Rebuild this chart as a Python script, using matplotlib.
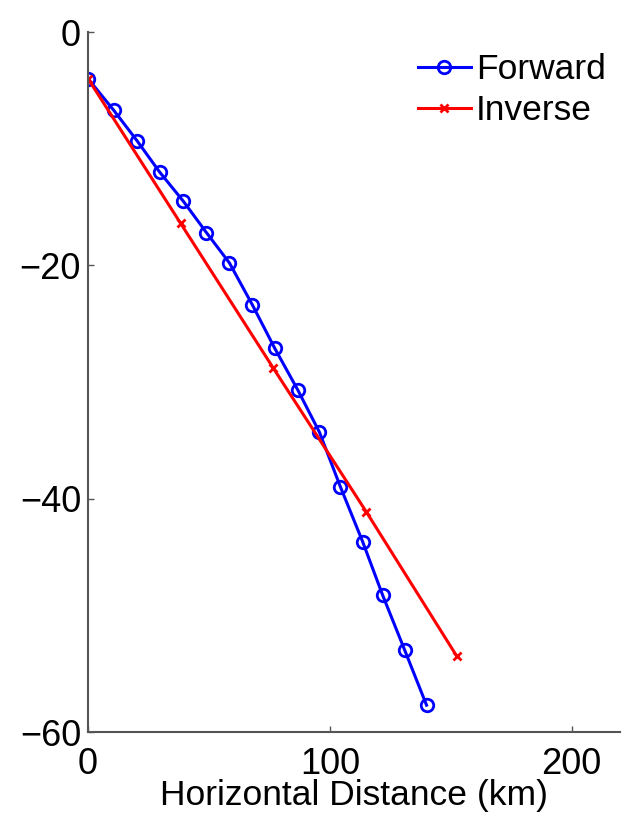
import matplotlib
matplotlib.use("Agg")
import matplotlib.pyplot as plt

plt.rcParams['font.family'] = ['Liberation Sans', 'DejaVu Sans']

# forward model trace
fwd_x = [0, 10.6, 20.2, 29.6, 39.4, 49.0, 58.5, 68.0, 77.2, 86.8, 95.7, 104.4, 113.6, 121.9, 131.0, 140.0]
fwd_y = [-4.0, -6.7, -9.3, -12.0, -14.5, -17.2, -19.8, -23.4, -27.1, -30.7, -34.3, -39.0, -43.7, -48.3, -53.0, -57.7]

# inverse solution
inv_x = [0, 38.3, 76.6, 115.0, 152.5]
inv_y = [-4.0, -16.4, -28.8, -41.1, -53.5]

fig = plt.figure(figsize=(6.3, 8.15), dpi=100)
ax = fig.add_axes([88/630, 1 - 732/815, (620-88)/630, (732-32)/815])

ax.plot(fwd_x, fwd_y, '-o', color='#0000ff', lw=2.2, ms=9, mew=2, mfc='none', label='Forward')
ax.plot(inv_x, inv_y, '-x', color='#ff0000', lw=2.2, ms=6, mew=2, label='Inverse')

ax.set_xlim(0, 220)
ax.set_ylim(-60, 0)
ax.set_xticks([0, 100, 200])
ax.set_yticks([-60, -40, -20, 0])
ax.set_yticklabels(['\u221260', '\u221240', '\u221220', '0'])
ax.set_xlabel('Horizontal Distance (km)', fontsize=25.5, labelpad=-2)
ax.tick_params(direction='in', labelsize=26, length=4, width=1, color='#555555', pad=5)
ax.tick_params(axis='x', pad=11)
for s in ['top', 'right']:
    ax.spines[s].set_visible(False)
for s in ['left', 'bottom']:
    ax.spines[s].set_color('#555555')
    ax.spines[s].set_linewidth(1.5)

ax.legend(loc='upper right', frameon=False, fontsize=25.5, handlelength=1.5,
          handletextpad=0.15, borderaxespad=0.0, labelspacing=0.22,
          bbox_to_anchor=(1.0, 0.99))

fig.savefig('out.png', dpi=100)
